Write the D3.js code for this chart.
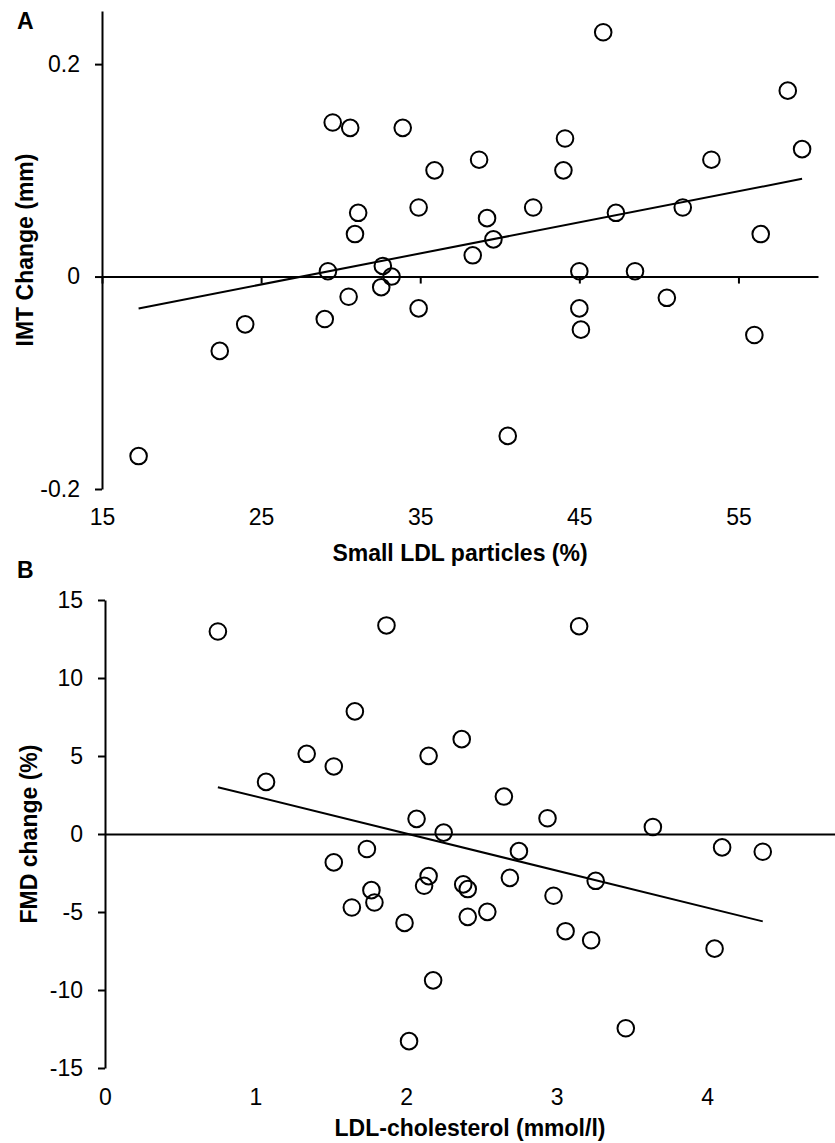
<!DOCTYPE html>
<html>
<head>
<meta charset="utf-8">
<script src="https://cdn.jsdelivr.net/npm/d3@7"></script>
<style>
  body { margin: 0; background: #fff; }
  svg { display: block; }
  text { font-family: "Liberation Sans", Arial, sans-serif; fill: #000; }
</style>
</head>
<body>
<svg id="chart" width="835" height="1143"></svg>
<script>
// panel A: small LDL particles (%) vs IMT change (mm)
const smallLdlPct = [17.3, 22.4, 24.0, 29.0, 29.2, 29.5, 30.5, 30.6, 30.9, 31.1,
  32.55, 32.65, 33.2, 33.9, 34.9, 34.9, 35.9, 38.3, 38.7, 39.2,
  39.6, 40.5, 42.1, 44.0, 44.1, 45.0, 45.0, 45.1, 46.5, 47.3,
  48.5, 50.5, 51.5, 53.3, 56.0, 56.4, 58.1, 59.0];
const imtChange = [-0.169, -0.070, -0.045, -0.040, 0.005, 0.145, -0.019, 0.140, 0.040, 0.060,
  -0.010, 0.010, 0.0, 0.140, 0.065, -0.030, 0.100, 0.020, 0.110, 0.055,
  0.035, -0.150, 0.065, 0.100, 0.130, 0.005, -0.030, -0.050, 0.230, 0.060,
  0.005, -0.020, 0.065, 0.110, -0.055, 0.040, 0.175, 0.120];
const imtTrendX = [17.3, 59.0];
const imtTrendY = [-0.030, 0.092];
const imtTicksX = [15, 25, 35, 45, 55];
const imtTicksY = [-0.2, 0, 0.2];

// panel B: LDL-cholesterol (mmol/l) vs FMD change (%)
const ldlChol = [0.75, 1.07, 1.34, 1.52, 1.52, 1.64, 1.66, 1.74, 1.77, 1.79,
  1.87, 1.99, 2.02, 2.07, 2.12, 2.15, 2.15, 2.18, 2.25, 2.37,
  2.38, 2.41, 2.41, 2.54, 2.65, 2.69, 2.75, 2.94, 2.98, 3.06,
  3.15, 3.23, 3.26, 3.46, 3.64, 4.05, 4.10, 4.37];
const fmdChange = [12.98, 3.34, 5.14, 4.33, -1.82, -4.71, 7.86, -0.96, -3.60, -4.39,
  13.37, -5.70, -13.28, 0.97, -3.32, -2.70, 5.01, -9.38, 0.09, 6.08,
  -3.23, -3.53, -5.31, -4.99, 2.40, -2.81, -1.10, 1.01, -3.96, -6.23,
  13.32, -6.81, -3.00, -12.45, 0.45, -7.35, -0.86, -1.14];
const fmdTrendX = [0.75, 4.37];
const fmdTrendY = [3.0, -5.6];
const fmdTicksX = [0, 1, 2, 3, 4];
const fmdTicksY = [-15, -10, -5, 0, 5, 10, 15];

const svg = d3.select('#chart');
const FS = 23;

function styleAxis(sel) {
  sel.select('.domain').attr('stroke', '#000').attr('stroke-width', 2);
  sel.selectAll('.tick line').attr('stroke', '#000').attr('stroke-width', 2);
  sel.selectAll('.tick text').attr('font-size', FS).attr('fill', '#000');
}

function drawPanel(cfg) {
  const { xs, ys, xDom, yDom, xRange, yRange, ticksX, ticksY, trendX, trendY,
          zeroTicks, letter, letterY, xTitle, xTitleY, yTitle, yTitleX, xLabelPad } = cfg;
  const x = d3.scaleLinear().domain(xDom).range(xRange);
  const y = d3.scaleLinear().domain(yDom).range(yRange);
  const g = svg.append('g');

  // zero line (doubles as x axis)
  const zero = g.append('g').attr('transform', `translate(0,${y(0)})`)
    .call(d3.axisBottom(x).tickValues(zeroTicks ? ticksX : []).tickSize(7).tickSizeOuter(0).tickFormat(''));
  styleAxis(zero);

  // y axis
  const ya = g.append('g').attr('transform', `translate(${xRange[0]},0)`)
    .call(d3.axisLeft(y).tickValues(ticksY).tickSize(7).tickSizeOuter(0).tickPadding(15)
      .tickFormat(d => String(d)));
  styleAxis(ya);

  // x tick labels at the bottom
  const xa = g.append('g').attr('transform', `translate(0,${yRange[0]})`)
    .call(d3.axisBottom(x).tickValues(ticksX).tickSize(0).tickPadding(xLabelPad).tickFormat(d => String(d)));
  xa.select('.domain').remove();
  styleAxis(xa);

  // trend line
  g.append('line')
    .attr('x1', x(trendX[0])).attr('y1', y(trendY[0]))
    .attr('x2', x(trendX[1])).attr('y2', y(trendY[1]))
    .attr('stroke', '#000').attr('stroke-width', 2);

  // points
  g.append('g').selectAll('circle').data(d3.range(xs.length)).enter().append('circle')
    .attr('cx', i => x(xs[i])).attr('cy', i => y(ys[i])).attr('r', 8.3)
    .attr('fill', 'none').attr('stroke', '#000').attr('stroke-width', 2);

  g.append('text').attr('x', 17).attr('y', letterY).attr('font-size', FS)
    .attr('font-weight', 'bold').text(letter);
  g.append('text').attr('x', (xRange[0] + xRange[1]) / 2).attr('y', xTitleY)
    .attr('text-anchor', 'middle').attr('font-size', FS).attr('font-weight', 'bold').text(xTitle);
  const yc = (yRange[0] + yRange[1]) / 2;
  g.append('text').attr('transform', `translate(${yTitleX},${yc}) rotate(-90)`)
    .attr('text-anchor', 'middle').attr('font-size', FS).attr('font-weight', 'bold').text(yTitle);
}

drawPanel({
  xs: smallLdlPct, ys: imtChange, xDom: [15, 60], yDom: [-0.2, 0.25],
  xRange: [102, 818], yRange: [489, 11], ticksX: imtTicksX, ticksY: imtTicksY,
  trendX: imtTrendX, trendY: imtTrendY, zeroTicks: true,
  letter: 'A', letterY: 29, xTitle: 'Small LDL particles (%)', xTitleY: 561,
  yTitle: 'IMT Change (mm)', yTitleX: 33, xLabelPad: 20
});

drawPanel({
  xs: ldlChol, ys: fmdChange, xDom: [0, 4.85], yDom: [-15, 15],
  xRange: [105, 835], yRange: [1068, 600], ticksX: fmdTicksX, ticksY: fmdTicksY,
  trendX: fmdTrendX, trendY: fmdTrendY, zeroTicks: false,
  letter: 'B', letterY: 578, xTitle: 'LDL-cholesterol (mmol/l)', xTitleY: 1136,
  yTitle: 'FMD change (%)', yTitleX: 37, xLabelPad: 21
});
</script>
</body>
</html>
